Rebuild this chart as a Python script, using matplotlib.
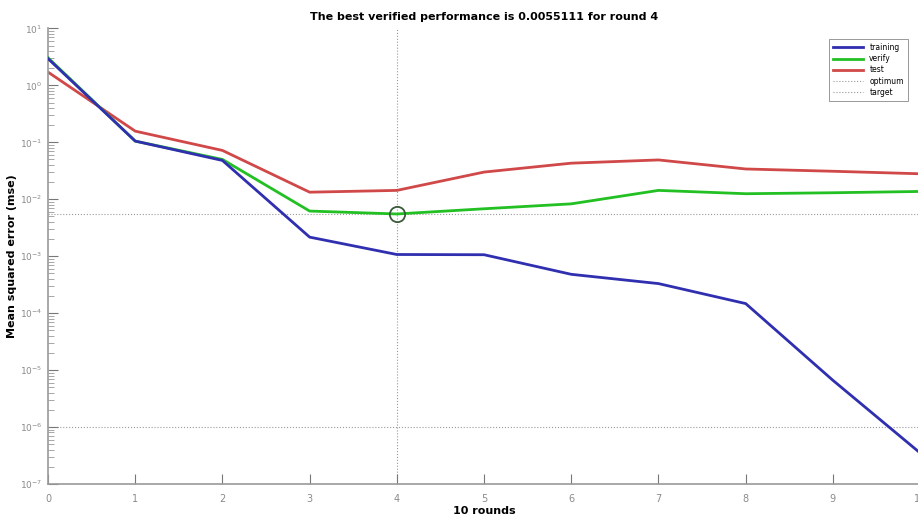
import numpy as np
import matplotlib
matplotlib.use("Agg")
import matplotlib.pyplot as plt
from matplotlib.ticker import LogLocator, FixedLocator, NullFormatter

# values (log scale)
rounds = [0, 1, 2, 3, 4, 5, 6, 7, 8, 9, 10]
training = [2.95, 0.105, 0.048, 0.00216, 0.00107, 0.00106, 0.00048, 0.00033, 0.000147, 6.6e-6, 3.5e-7]
verify = [3.05, 0.105, 0.050, 0.0062, 0.0055111, 0.0068, 0.0083, 0.0143, 0.0125, 0.013, 0.0137]
test = [1.71, 0.157, 0.072, 0.0133, 0.0143, 0.030, 0.043, 0.049, 0.034, 0.031, 0.028]
best_round = 4
best_perf = 0.0055111
target = 1e-6

fig = plt.figure(figsize=(9.18, 5.17), dpi=100)
ax = fig.add_axes([0.0523, 0.064, 0.950, 0.881])

grey = "#9a9a9a"
ax.plot(rounds, training, color="#2f2fb0", lw=2, label="training", zorder=4)
ax.plot(rounds, verify, color="#22c022", lw=2, label="verify", zorder=3)
ax.plot(rounds, test, color="#d04848", lw=2, label="test", zorder=2)
ax.axvline(best_round, color=grey, lw=0.8, ls=":", label="optimum", zorder=1)
ax.axhline(best_perf, color=grey, lw=0.8, ls=":", label="target", zorder=1)
ax.axhline(target, color=grey, lw=0.8, ls=":", zorder=1)
ax.plot([best_round], [best_perf], "o", ms=11, mfc="none", mec="#3a5a3a", mew=1.3, zorder=5)

ax.set_yscale("log")
ax.set_ylim(1e-7, 10)
ax.set_xlim(0, 10)
ax.set_xticks(rounds)
ax.yaxis.set_major_locator(FixedLocator([10.0 ** k for k in range(-7, 2)]))
ax.set_yticklabels(["$10^{%d}$" % k for k in range(-7, 2)])
ax.yaxis.set_minor_locator(LogLocator(base=10, subs=np.arange(2, 10), numticks=20))
ax.yaxis.set_minor_formatter(NullFormatter())

for s in ["top", "right"]:
    ax.spines[s].set_visible(False)
for s in ["left", "bottom"]:
    ax.spines[s].set_color(grey)
    ax.spines[s].set_linewidth(1.2)

ax.tick_params(axis="both", which="major", direction="in", length=7, color="#777777",
               labelsize=7, labelcolor="#8a8a8a")
ax.tick_params(axis="x", which="major", pad=7)
ax.tick_params(axis="y", which="major", pad=4, labelsize=6.5)
ax.tick_params(axis="y", which="minor", direction="in", length=4, color="#999999")

ax.set_title("The best verified performance is 0.0055111 for round 4",
             fontsize=8, fontweight="bold", pad=6)
ax.set_xlabel("10 rounds", fontsize=8, fontweight="bold", labelpad=2)
ax.set_ylabel("Mean squared error (mse)", fontsize=8, fontweight="bold", labelpad=2)

leg = ax.legend(loc="upper right", bbox_to_anchor=(0.99, 0.985), fontsize=5.5,
                fancybox=False, framealpha=1, edgecolor="#888888",
                handlelength=4, labelspacing=0.3, borderpad=0.5)
leg.get_frame().set_linewidth(0.6)

fig.savefig("out.png", dpi=100)
